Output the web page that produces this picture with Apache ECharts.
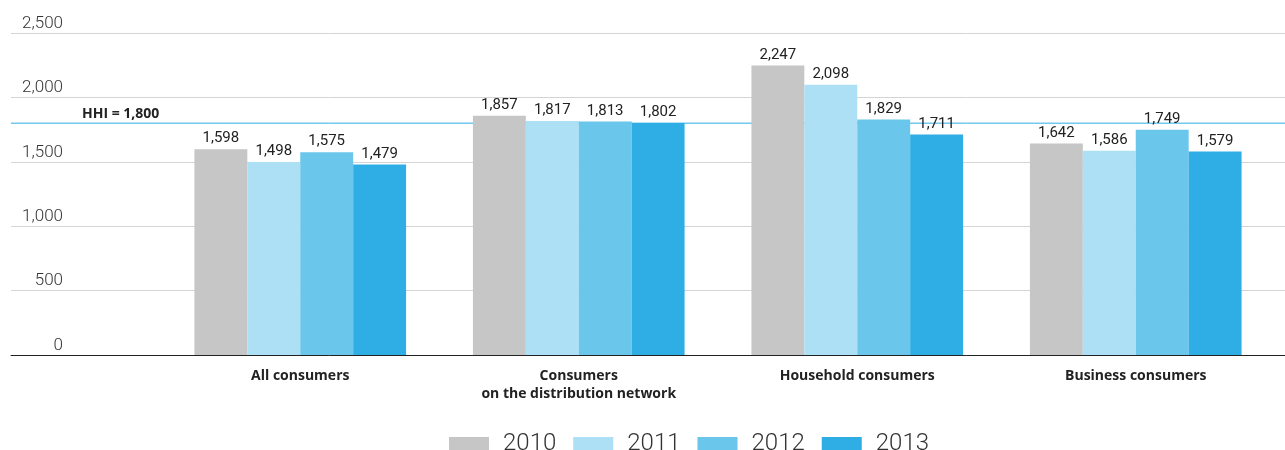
<!DOCTYPE html>
<html>
<head>
<meta charset="utf-8">
<script src="https://cdn.jsdelivr.net/npm/echarts@6/dist/echarts.min.js"></script>
<style>html,body{margin:0;padding:0;background:#fff}#c{width:1285px;height:450px}</style>
</head>
<body>
<div id="c"></div>
<script>
var categories = ['All consumers', 'Consumers\non the distribution network', 'Household consumers', 'Business consumers'];
var years = ['2010', '2011', '2012', '2013'];
var v2010 = [1598, 1857, 2247, 1642];
var v2011 = [1498, 1817, 2098, 1586];
var v2012 = [1575, 1813, 1829, 1749];
var v2013 = [1479, 1802, 1711, 1579];
var hhi = 1800;
var yMin = 0, yMax = 2500, yStep = 500;

var colors = ['#c6c6c6', '#addff5', '#6bc6ec', '#2eaee5'];
var seriesValues = [v2010, v2011, v2012, v2013];
var font = 'Roboto, "DejaVu Sans", sans-serif';
var boldFont = '"Open Sans", "DejaVu Sans", sans-serif';
function fmt(n){ return Number(n).toLocaleString('en-US'); }

var chart = echarts.init(document.getElementById('c'));
var series = seriesValues.map(function(vals, i){
  return {
    name: years[i], type: 'bar', xAxisIndex: 1, yAxisIndex: 1, z: 3,
    data: vals, barGap: '0%', barCategoryGap: '24%',
    itemStyle: {color: colors[i]},
    label: {show: true, position: 'top', distance: 3, color: '#222', fontSize: 15, fontFamily: font,
      formatter: function(p){ return fmt(p.value); }}
  };
});
series.push({
  name: 'HHI', type: 'line', xAxisIndex: 0, yAxisIndex: 0, silent: true, z: 1,
  symbol: 'circle', symbolSize: 0, showSymbol: true,
  lineStyle: {color: '#2eaee5', width: 1, type: 'solid'},
  itemStyle: {color: '#2eaee5'},
  emphasis: {disabled: true},
  data: [
    {value: [0, hhi], label: {show: true, position: 'right', align: 'left', verticalAlign: 'bottom',
      offset: [66, -2], formatter: 'HHI = ' + fmt(hhi),
      color: '#222', fontWeight: 'bold', fontSize: 14, fontFamily: boldFont}},
    {value: [1, hhi]}
  ]
});

chart.setOption({
  animation: false,
  color: colors,
  textStyle: {fontFamily: font},
  grid: [
    {left: 11, right: 0, top: 33, bottom: 95},
    {left: 161, right: 10, top: 33, bottom: 95}
  ],
  xAxis: [
    {gridIndex: 0, type: 'value', min: 0, max: 1,
      axisLine: {show: true, onZero: false, lineStyle: {color: '#222', width: 1}},
      axisTick: {show: false}, axisLabel: {show: false}, splitLine: {show: false}},
    {gridIndex: 1, type: 'category', data: categories,
      axisLine: {show: false}, axisTick: {show: false},
      axisLabel: {color: '#222', fontWeight: 'bold', fontSize: 14, lineHeight: 18, margin: 12, fontFamily: boldFont}}
  ],
  yAxis: [
    {gridIndex: 0, type: 'value', min: yMin, max: yMax, interval: yStep,
      axisLine: {show: false}, axisTick: {show: false},
      splitLine: {lineStyle: {color: '#d4d4d4', width: 1}},
      axisLabel: {margin: -52, align: 'right', verticalAlign: 'bottom', padding: [0,0,1,0],
        color: '#333', fontSize: 17, fontWeight: 300, fontFamily: font,
        formatter: function(v){ return fmt(v); }}},
    {gridIndex: 1, type: 'value', min: yMin, max: yMax, interval: yStep, show: false,
      splitLine: {show: false}}
  ],
  legend: {
    data: years, top: 427, left: 444,
    icon: 'rect', itemWidth: 40, itemHeight: 14, itemGap: 17,
    textStyle: {fontSize: 24, color: '#333', fontWeight: 300, fontFamily: font, padding: [0,0,0,9]}
  },
  series: series
});
</script>
</body>
</html>
